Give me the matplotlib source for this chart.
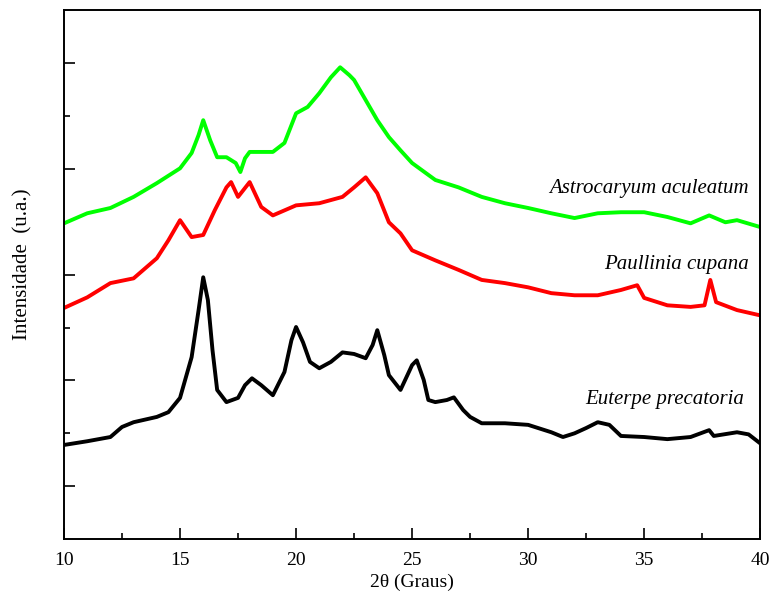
import matplotlib
matplotlib.use("Agg")
from matplotlib import pyplot as plt
from matplotlib.ticker import MultipleLocator

plt.rcParams["font.family"] = ["Liberation Serif", "DejaVu Serif"]

# Euterpe precatoria (black)
x_ep = [10, 11, 12, 12.5, 13, 14, 14.5, 15, 15.5, 15.8, 16.0, 16.2, 16.4, 16.6, 17, 17.5,
        17.8, 18.1, 18.5, 19, 19.5, 19.8, 20.0, 20.3, 20.6, 21, 21.5, 22, 22.5, 23, 23.3,
        23.5, 23.8, 24, 24.5, 25, 25.2, 25.5, 25.7, 26, 26.5, 26.8, 27.2, 27.5, 28, 29, 30,
        31, 31.5, 32, 32.5, 33, 33.5, 34, 35, 36, 37, 37.8, 38, 39, 39.5, 40]
y_ep = [1.78, 1.85, 1.93, 2.12, 2.21, 2.31, 2.40, 2.67, 3.44, 4.33, 4.95, 4.52, 3.57, 2.82,
        2.59, 2.67, 2.91, 3.04, 2.91, 2.72, 3.16, 3.76, 4.01, 3.72, 3.35, 3.23, 3.35, 3.53,
        3.50, 3.42, 3.67, 3.95, 3.48, 3.10, 2.82, 3.29, 3.38, 3.01, 2.63, 2.59, 2.63, 2.68,
        2.44, 2.31, 2.19, 2.19, 2.16, 2.02, 1.93, 2.00, 2.10, 2.21, 2.16, 1.95, 1.93, 1.89,
        1.93, 2.06, 1.95, 2.02, 1.98, 1.81]

# Paullinia cupana (red)
x_pc = [10, 11, 12, 13, 13.5, 14, 14.5, 15, 15.5, 16, 16.5, 17, 17.2, 17.5, 18, 18.5, 19,
        20, 21, 22, 22.5, 23, 23.5, 24, 24.5, 25, 26, 27, 28, 29, 30, 31, 32, 33, 34, 34.7,
        35, 36, 37, 37.6, 37.85, 38.1, 39, 40]
y_pc = [4.37, 4.57, 4.84, 4.93, 5.12, 5.31, 5.65, 6.03, 5.71, 5.75, 6.22, 6.65, 6.75, 6.47,
        6.75, 6.28, 6.12, 6.31, 6.35, 6.47, 6.65, 6.84, 6.54, 5.99, 5.78, 5.46, 5.27, 5.09,
        4.90, 4.84, 4.76, 4.65, 4.61, 4.61, 4.71, 4.80, 4.56, 4.42, 4.39, 4.42, 4.90, 4.48,
        4.33, 4.23]

# Astrocaryum aculeatum (green)
x_aa = [10, 11, 12, 13, 14, 15, 15.5, 15.8, 16.0, 16.3, 16.6, 17, 17.4, 17.6, 17.8, 18, 19,
        19.5, 20, 20.5, 21, 21.5, 21.9, 22.3, 22.5, 23, 23.5, 24, 24.5, 25, 26, 27, 28, 29,
        30, 31, 32, 33, 34, 35, 36, 37, 37.8, 38.5, 39, 40]
y_aa = [5.97, 6.16, 6.26, 6.47, 6.73, 7.01, 7.30, 7.64, 7.92, 7.54, 7.22, 7.22, 7.11, 6.94,
        7.20, 7.32, 7.32, 7.49, 8.05, 8.17, 8.43, 8.73, 8.92, 8.77, 8.68, 8.30, 7.92, 7.60,
        7.35, 7.11, 6.79, 6.65, 6.47, 6.35, 6.26, 6.16, 6.07, 6.16, 6.18, 6.18, 6.09, 5.97,
        6.12, 5.99, 6.03, 5.90]

fig = plt.figure(figsize=(7.71, 5.99), dpi=100)
ax = fig.add_axes([0.083, 0.1, 0.903, 0.883])

ax.plot(x_ep, y_ep, color="black", lw=2.8)
ax.plot(x_pc, y_pc, color="#ff0000", lw=2.8)
ax.plot(x_aa, y_aa, color="#00ff00", lw=2.8)

ax.text(39.5, 6.63, "Astrocaryum aculeatum", style="italic", fontsize=15, ha="right", va="center")
ax.text(39.5, 5.2, "Paullinia cupana", style="italic", fontsize=15, ha="right", va="center")
ax.text(39.3, 2.63, "Euterpe precatoria", style="italic", fontsize=15, ha="right", va="center")

ax.set_xlim(10, 40)
ax.set_ylim(0, 10)
ax.xaxis.set_major_locator(MultipleLocator(5))
ax.xaxis.set_minor_locator(MultipleLocator(2.5))
ax.set_yticks([1, 3, 5, 7, 9])
ax.set_yticks([2, 4, 6, 8], minor=True)
ax.set_yticklabels([])
ax.tick_params(which="major", direction="in", length=8, width=1.2, labelsize=14, pad=9)
ax.tick_params(which="minor", direction="in", length=4, width=1.2)
ax.tick_params(top=False, right=False)
for s in ax.spines.values():
    s.set_linewidth(1.4)

ax.set_xlabel("2θ (Graus)", fontsize=14, labelpad=4)
ax.set_ylabel("Intensidade  (u.a.)", fontsize=15)
ax.yaxis.set_label_coords(-0.045, 0.52)

fig.savefig("out.png", dpi=100)
